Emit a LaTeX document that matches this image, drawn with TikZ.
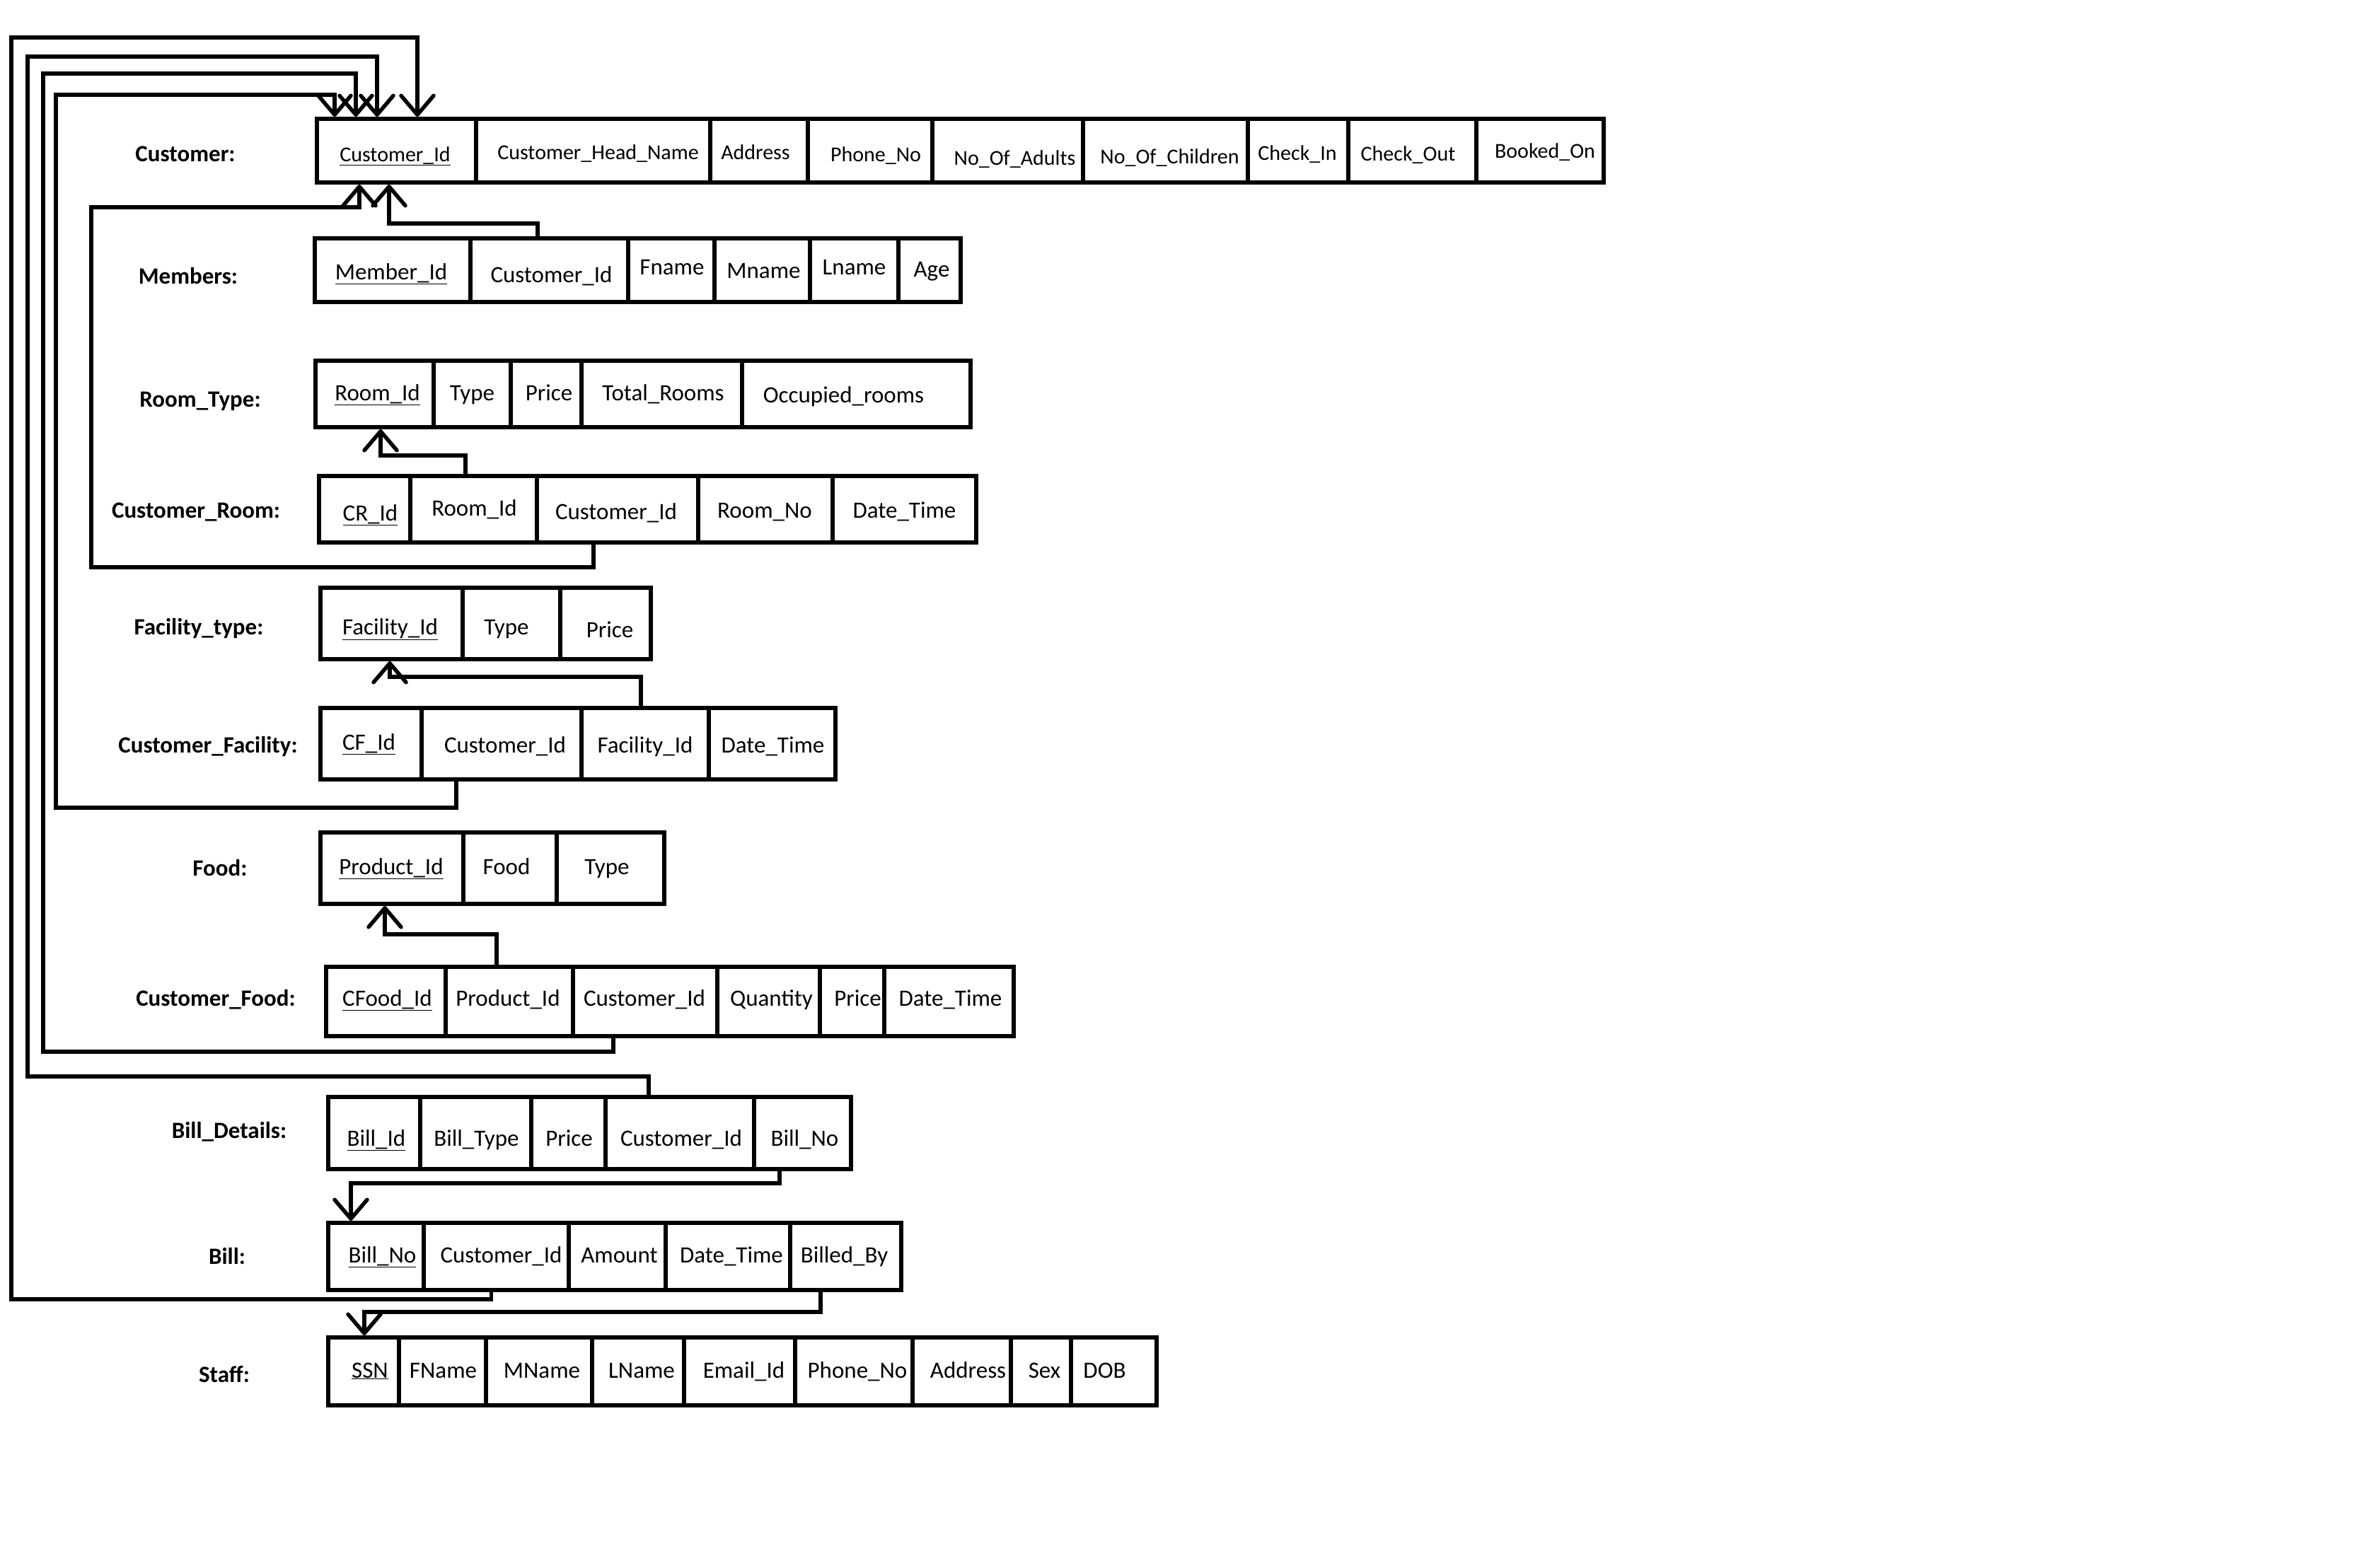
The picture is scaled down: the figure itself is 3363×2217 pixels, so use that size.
\documentclass[tikz,border=0pt]{standalone}
\usepackage{fontspec}
\setmainfont{Carlito}
\usetikzlibrary{arrows.meta}

% Sizes are given in pixels of the drawing: 1 unit = 1pt, y grows downwards.
\newcommand\cellfont{\fontsize{33}{38}\selectfont}
\newcommand\custfont{\fontsize{30}{35}\selectfont}
\newcommand\labelfont{\fontsize{33}{38}\selectfont\bfseries}

\tikzset{
  cellframe/.style={draw, rectangle, line width=6.5pt, inner sep=0pt, outer sep=0pt},
  celltext/.style={inner sep=0pt, text height=22pt, text depth=0pt},
  tablelabel/.style={font=\labelfont, inner sep=0pt, text height=22pt, text depth=0pt},
  fk/.style={line width=5.5pt,
    -{Straight Barb[round, length=27pt, width=46pt, line width=5.5pt]}},
}

% One relation drawn as a row of cells:
% [font]{prefix}{top}{bottom}{name/left/right/dx/dy/text, ...}
\newcommand\erow[5][\cellfont]{%
  \foreach \nm/\xa/\xb/\dx/\dy/\txt in {#5}{
    \node[cellframe, minimum width={(\xb-\xa)*1pt}, minimum height={(#4-#3)*1pt}]
      (#2-\nm) at ({(\xa+\xb)/2},{(#3+#4)/2}) {};
    \node[celltext, font=#1] (#2-\nm-t) at ([shift={(\dx,\dy)}]#2-\nm.center) {\txt};
  }%
}

\begin{document}
\begin{tikzpicture}[x=1pt, y=-1pt]
\fill[white] (0,0) rectangle (3363,2217);
\useasboundingbox (0,0) rectangle (3363,2217);

% ---- relation names ----
\node[tablelabel] (lbl-cu)  at (262,217)  {Customer:};
\node[tablelabel] (lbl-mb)  at (266,390)  {Members:};
\node[tablelabel] (lbl-rt)  at (283,564)  {Room\_Type:};
\node[tablelabel] (lbl-cr)  at (277,721)  {Customer\_Room:};
\node[tablelabel] (lbl-ft)  at (281,886)  {Facility\_type:};
\node[tablelabel] (lbl-cfa) at (294,1053) {Customer\_Facility:};
\node[tablelabel] (lbl-fd)  at (311,1227) {Food:};
\node[tablelabel] (lbl-cfo) at (305,1411) {Customer\_Food:};
\node[tablelabel] (lbl-bd)  at (324,1598) {Bill\_Details:};
\node[tablelabel] (lbl-bl)  at (321,1776) {Bill:};
\node[tablelabel] (lbl-st)  at (317,1943) {Staff:};

% ---- relations ----
\erow[\custfont]{cu}{168}{258}{
  cid/448/673/-2/4/\underline{Customer\_Id},
  head/673/1004/7/1/Customer\_Head\_Name,
  addr/1004/1142/-5/1/Address,
  phone/1142/1318/8/4/Phone\_No,
  adults/1318/1531/10/9/No\_Of\_Adults,
  child/1531/1764/6/7/No\_Of\_Children,
  cin/1764/1906/-1/2/Check\_In,
  cout/1906/2087/-6/3/Check\_Out,
  booked/2087/2267/7/-1/Booked\_On}

\erow{mb}{337}{427}{
  mid/445/665/-2/2/\underline{Member\_Id},
  cid/665/888/3/6/Customer\_Id,
  fn/888/1010/1/-5/Fname,
  mn/1010/1145/2/0/Mname,
  ln/1145/1270/0/-5/Lname,
  age/1270/1358/3/-2/Age}

\erow{rt}{510}{604}{
  rid/446/613/4/-2/\underline{Room\_Id},
  type/613/722/0/-2/Type,
  price/722/822/4/-2/Price,
  total/822/1049/2/-2/Total\_Rooms,
  occ/1049/1372/-18/1/Occupied\_rooms}

\erow{cr}{673}{767}{
  crid/451/580/8/5/\underline{CR\_Id},
  rid/580/759/1/-2/Room\_Id,
  cid/759/987/-2/3/Customer\_Id,
  rno/987/1177/-1/1/Room\_No,
  dt/1177/1380/0/1/Date\_Time}

\erow{ft}{831}{932}{
  fid/453/654/-2/5/\underline{Facility\_Id},
  type/654/792/-7/5/Type,
  price/792/920/6/9/Price}

\erow{cfa}{1001}{1102}{
  cfid/453/596/-3/-2/\underline{CF\_Id},
  cid/596/822/5/2/Customer\_Id,
  fid/822/1002/0/2/Facility\_Id,
  dt/1002/1181/1/2/Date\_Time}

\erow{fd}{1177}{1278}{
  pid/453/655/-1/-2/\underline{Product\_Id},
  food/655/787/-5/-2/Food,
  type/787/939/-5/-2/Type}

\erow{cfo}{1367}{1465}{
  cfoid/461/630/2/-5/\underline{CFood\_Id},
  pid/630/810/-2/-5/Product\_Id,
  cid/810/1014/-1/-5/Customer\_Id,
  qty/1014/1159/4/-5/Quantity,
  price/1159/1250/8/-5/Price,
  dt/1250/1433/2/-5/Date\_Time}

\erow{bd}{1551}{1653}{
  bid/464/594/3/7/\underline{Bill\_Id},
  btype/594/751/1/7/Bill\_Type,
  price/751/856/1/7/Price,
  cid/856/1066/2/7/Customer\_Id,
  bno/1066/1203/3/7/Bill\_No}

\erow{bl}{1729}{1824}{
  bno/464/599/9/-2/\underline{Bill\_No},
  cid/599/804/7/-2/Customer\_Id,
  amt/804/941/3/-2/Amount,
  dt/941/1117/5/-2/Date\_Time,
  by/1117/1274/-2/-2/Billed\_By}

\erow{st}{1891}{1987}{
  ssn/464/564/9/-2/\underline{SSN},
  fn/564/687/1/-2/FName,
  mn/687/837/4/-2/MName,
  ln/837/967/5/-2/LName,
  email/967/1124/6/-2/Email\_Id,
  phone/1124/1290/5/-2/Phone\_No,
  addr/1290/1429/9/-2/Address,
  sex/1429/1514/5/-2/Sex,
  dob/1514/1635/-13/-2/DOB}

% ---- foreign keys ----
% long buses on the left, all ending at Customer.Customer_Id
\coordinate (bus1a) at (16,1837);  \coordinate (bus1b) at (16,53);
\coordinate (bus2a) at (39,1522);  \coordinate (bus2b) at (39,80);
\coordinate (bus3a) at (61,1487);  \coordinate (bus3b) at (61,104);
\coordinate (bus4a) at (79,1142);  \coordinate (bus4b) at (79,134);
\coordinate (bus5a) at (129,802);  \coordinate (bus5b) at (129,293);

\draw[fk] ([xshift=-7pt]bl-cid.south)   |- (bus1a) -- (bus1b) -| ([xshift=29.5pt,yshift=3pt]cu-cid.north);
\draw[fk] ([xshift=-44pt]bd-cid.north)  |- (bus2a) -- (bus2b) -| ([xshift=-27.5pt,yshift=3pt]cu-cid.north);
\draw[fk] ([xshift=-45pt]cfo-cid.south) |- (bus3a) -- (bus3b) -| ([xshift=-57.5pt,yshift=3pt]cu-cid.north);
\draw[fk] ([xshift=-64pt]cfa-cid.south) |- (bus4a) -- (bus4b) -| ([xshift=-87.5pt,yshift=3pt]cu-cid.north);
\draw[fk] ([xshift=-34pt]cr-cid.south)  |- (bus5a) -- (bus5b) -| ([xshift=-52.5pt,yshift=-3pt]cu-cid.south);
\draw[fk] ([xshift=-16.5pt]mb-cid.north) -- ++(0,-21) -| ([xshift=-10.5pt,yshift=-3pt]cu-cid.south);

% short links between neighbouring relations
\draw[fk] ([xshift=-11.5pt]cr-rid.north)  -- ++(0,-29) -| ([xshift=8.5pt,yshift=-3pt]rt-rid.south);
\draw[fk] ([xshift=-6pt]cfa-fid.north)    -- ++(0,-44) -| ([xshift=-2.5pt,yshift=-3pt]ft-fid.south);
\draw[fk] ([xshift=-18pt]cfo-pid.north)   -- ++(0,-46) -| ([xshift=-10pt,yshift=-3pt]fd-pid.south);
\draw[fk] ([xshift=-32.5pt]bd-bno.south)  -- ++(0,20)  -| ([xshift=-35.5pt,yshift=3pt]bl-bno.north);
\draw[fk] ([xshift=-35.5pt]bl-by.south)   -- ++(0,31)  -| ([xshift=1pt,yshift=3pt]st-ssn.north);
\end{tikzpicture}
\end{document}
